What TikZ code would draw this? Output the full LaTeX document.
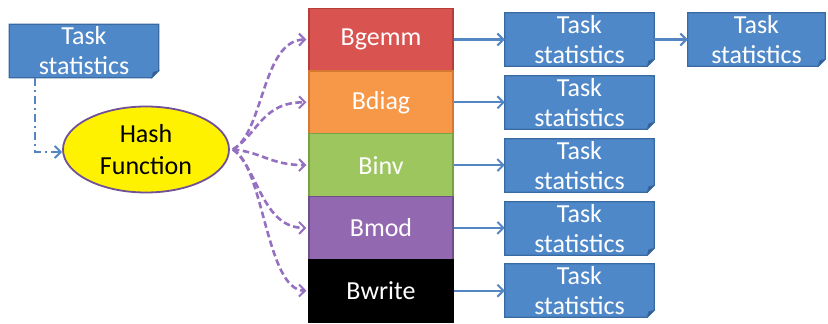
\documentclass[tikz,border=0pt]{standalone}
\usepackage{fontspec}
\setmainfont{Carlito}
\usetikzlibrary{arrows.meta,backgrounds,calc,shapes.geometric}

\definecolor{boxblue}{RGB}{79,136,200}
\definecolor{boxblueline}{RGB}{58,106,162}
\definecolor{foldblue}{RGB}{52,92,140}
\definecolor{linkblue}{RGB}{84,134,196}
\definecolor{rowred}{RGB}{217,84,80}
\definecolor{rowredline}{RGB}{180,62,58}
\definecolor{roworange}{RGB}{247,152,72}
\definecolor{roworangeline}{RGB}{214,120,48}
\definecolor{rowgreen}{RGB}{157,199,94}
\definecolor{rowgreenline}{RGB}{120,160,70}
\definecolor{rowpurple}{RGB}{146,104,176}
\definecolor{rowpurpleline}{RGB}{112,78,140}
\definecolor{hashline}{RGB}{112,80,150}
\definecolor{hashlink}{RGB}{150,112,192}

\tikzset{
  txt/.style={font=\fontsize{26}{30}\selectfont},
  taskbox/.style={txt, text=white, align=center, inner sep=0pt,
    minimum width=149pt, minimum height=53pt},
  rowbox/.style={txt, text=white, inner sep=0pt,
    minimum width=144pt, minimum height=62.8pt},
  vtip/.style={-{Straight Barb[length=6pt,width=12pt,line width=2pt]}},
  bluelink/.style={draw=linkblue, line width=2.2pt, vtip},
  hashlink/.style={draw=hashlink, line width=2.6pt, dash pattern=on 6.5pt off 3.5pt, vtip},
}

% folded-corner card drawn behind a task node
\newcommand{\cardshape}[1]{%
  \fill[boxblue, draw=boxblueline, line width=1.2pt]
    (#1.north west) -- (#1.north east) -- ([yshift=7pt]#1.south east)
    -- ([xshift=-7pt]#1.south east) -- (#1.south west) -- cycle;
  \fill[foldblue, draw=boxblueline, line width=0.6pt]
    ([yshift=7pt]#1.south east) -- ([xshift=-7pt]#1.south east)
    -- ([xshift=-5.5pt,yshift=5.5pt]#1.south east) -- cycle;
}

\begin{document}
\begin{tikzpicture}[x=1pt,y=-1pt]
\useasboundingbox (0,0) rectangle (828,324);

% source card and hash function
\node[taskbox] (src) at (84,51) {Task\\statistics};
\node[draw=hashline, fill=yellow, line width=1.8pt, ellipse,
      font=\fontsize{26}{32}\selectfont,
      minimum width=166pt, minimum height=86pt, inner sep=0pt, align=center]
      (hash) at (146,149.5) {Hash\\Function};

% stack of task kinds
\node[rowbox, fill=rowred, draw=rowredline, line width=1.2pt] (r1) at (381,39.5) {Bgemm};
\node[rowbox, fill=roworange, draw=roworangeline, line width=1.2pt] (r2) at (381,102.3) {Bdiag};
\node[rowbox, fill=rowgreen, draw=rowgreenline, line width=1.2pt] (r3) at (381,165.1) {Binv};
\node[rowbox, fill=rowpurple, draw=rowpurpleline, line width=1.2pt] (r4) at (381,227.9) {Bmod};
\node[rowbox, fill=black, draw=black, line width=1.2pt] (r5) at (381,290.7) {Bwrite};

% statistics cards
\node[taskbox] (t1) at (579.5,39.5) {Task\\statistics};
\node[taskbox] (t2) at (579.5,102.5) {Task\\statistics};
\node[taskbox] (t3) at (579.5,165.5) {Task\\statistics};
\node[taskbox] (t4) at (579.5,228.5) {Task\\statistics};
\node[taskbox] (t5) at (579.5,290.5) {Task\\statistics};
\node[taskbox, minimum width=137pt] (t6) at (756.5,39.5) {Task\\statistics};

\begin{scope}[on background layer]
  \foreach \n in {src,t1,t2,t3,t4,t5,t6} {\cardshape{\n}}
\end{scope}

% source to hash
\coordinate (bend) at (35,152);
\draw[draw=linkblue, line width=2.4pt, dash pattern=on 8pt off 4pt on 2pt off 4pt, vtip]
  (src.south west -| bend) -- (bend) -- (hash.west |- bend);

% hash to every row
\coordinate (h) at ([xshift=3pt]hash.east);
\coordinate (e1) at ([xshift=-2pt]r1.west);
\coordinate (e2) at ([xshift=-2pt]r2.west);
\coordinate (e3) at ([xshift=-2pt]r3.west);
\coordinate (e4) at ([xshift=-2pt]r4.west);
\coordinate (e5) at ([xshift=-2pt]r5.west);
\draw[hashlink] (h) .. controls (264,132) and (262,40) .. (e1);
\draw[hashlink] (h) .. controls (258,134) and (262,102) .. (e2);
\draw[hashlink] (h) .. controls (262,152) and (270,165) .. (e3);
\draw[hashlink] (h) .. controls (258,168) and (262,228) .. (e4);
\draw[hashlink] (h) .. controls (264,166) and (266,290) .. (e5);

% rows to statistics
\draw[bluelink] (r1.east) -- (t1.west |- r1.east);
\draw[bluelink] (r2.east) -- (t2.west |- r2.east);
\draw[bluelink] (r3.east) -- (t3.west |- r3.east);
\draw[bluelink] (r4.east) -- (t4.west |- r4.east);
\draw[bluelink] (r5.east) -- (t5.west |- r5.east);
\draw[bluelink] (t1.east) -- (t6.west);
\end{tikzpicture}
\end{document}
